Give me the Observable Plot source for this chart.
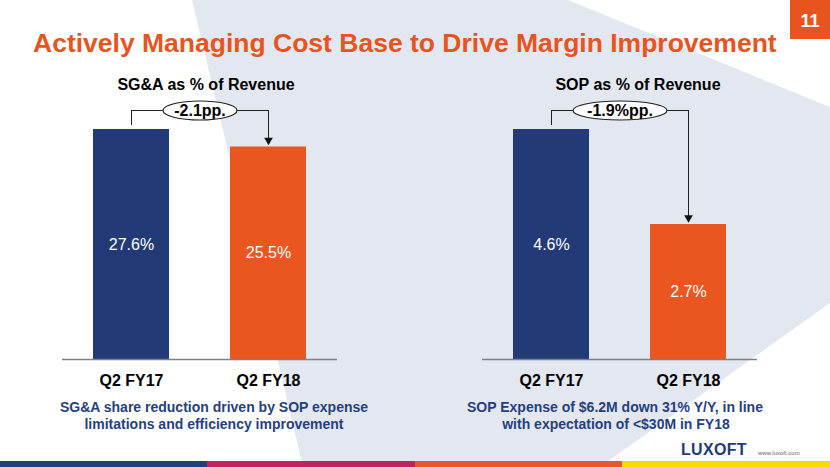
<!DOCTYPE html>
<html>
<head>
<meta charset="utf-8">
<script src="https://cdn.jsdelivr.net/npm/d3@7"></script>
<script src="https://cdn.jsdelivr.net/npm/@observablehq/plot@0.6"></script>
<style>
  html, body { margin: 0; padding: 0; background: #fff; }
  #slide { position: relative; width: 830px; height: 467px; overflow: hidden;
           font-family: "Liberation Sans", Arial, Helvetica, sans-serif; }
  #bg { position: absolute; left: 0; top: 0; }
  .chart { position: absolute; top: 70px; }
  .chart svg { overflow: visible; }
</style>
</head>
<body>
<div id="slide">
  <svg id="bg" width="830" height="467" xmlns="http://www.w3.org/2000/svg"
       font-family="Liberation Sans, Arial, Helvetica, sans-serif">
    <polygon points="192,0 568,0 830,107 830,303 600,467 303,467" fill="#e3e8f0"/>
    <rect x="790" y="0" width="40" height="39" fill="#e8541e"/>
    <text x="810" y="27" text-anchor="middle" font-size="18" font-weight="bold" fill="#fff">11</text>
    <text x="33" y="52" font-size="26.5" font-weight="bold" fill="#e8541e">Actively Managing Cost Base to Drive Margin Improvement</text>
    <text x="206" y="90" text-anchor="middle" font-size="16" font-weight="bold" fill="#000">SG&amp;A as % of Revenue</text>
    <text x="638" y="90" text-anchor="middle" font-size="16" font-weight="bold" fill="#000">SOP as % of Revenue</text>
    <g font-size="14" font-weight="bold" fill="#253f7f" text-anchor="middle">
      <text x="214" y="412">SG&amp;A share reduction driven by SOP expense</text>
      <text x="214" y="429">limitations and efficiency improvement</text>
      <text x="615" y="412">SOP Expense of $6.2M down 31% Y/Y, in line</text>
      <text x="616" y="429">with expectation of &lt;$30M in FY18</text>
    </g>
    <text x="681" y="455" font-size="16" font-weight="bold" fill="#1f3a7a" letter-spacing="0.3">LUXOFT</text>
    <text x="758" y="455" font-size="6" fill="#666">www.luxoft.com</text>
    <rect x="0" y="461" width="207" height="6" fill="#1f3f7f"/>
    <rect x="207" y="461" width="208" height="6" fill="#c0245e"/>
    <rect x="415" y="461" width="207" height="6" fill="#e8582a"/>
    <rect x="622" y="461" width="208" height="6" fill="#f7dc00"/>
  </svg>
  <div class="chart" id="left" style="left:62px"></div>
  <div class="chart" id="right" style="left:482px"></div>
</div>
<script>
const categories = ["Q2 FY17", "Q2 FY18"];
const sgaValues = [27.6, 25.5];
const sgaLabels = ["27.6%", "25.5%"];
const sgaDelta = "-2.1pp.";
const sopValues = [4.6, 2.7];
const sopLabels = ["4.6%", "2.7%"];
const sopDelta = "-1.9%pp.";
const barColors = ["#233a78", "#e9561f"];

function ellipseSymbol(rx, ry) {
  return {
    draw(ctx) {
      const k = 0.5522847498;
      ctx.moveTo(rx, 0);
      ctx.bezierCurveTo(rx, ry * k, rx * k, ry, 0, ry);
      ctx.bezierCurveTo(-rx * k, ry, -rx, ry * k, -rx, 0);
      ctx.bezierCurveTo(-rx, -ry * k, -rx * k, -ry, 0, -ry);
      ctx.bezierCurveTo(rx * k, -ry, rx, -ry * k, rx, 0);
      ctx.closePath();
    }
  };
}

function makeChart(values, labels, delta, rx) {
  const data = categories.map((c, i) => ({cat: c, value: values[i], label: labels[i]}));
  const vmax = d3.max(values);
  const level = vmax * 1.0826;
  const startGap = vmax * 0.0174;
  const arrowGap = vmax * 0.029;
  return Plot.plot({
    width: 275,
    height: 325,
    marginTop: 59,
    marginBottom: 36,
    marginLeft: 0,
    marginRight: 0,
    style: {background: "transparent", overflow: "visible", color: "#000",
            fontFamily: "Liberation Sans, Arial, Helvetica, sans-serif", fontSize: "16px", fontWeight: "bold"},
    x: {domain: categories, paddingInner: 0.445, paddingOuter: 0.226, axis: "bottom",
        tickSize: 0, tickPadding: 15, label: null},
    y: {domain: [0, vmax], axis: null},
    color: {domain: categories, range: barColors},
    marks: [
      Plot.barY(data, {x: "cat", y: "value", fill: "cat"}),
      Plot.ruleY([0], {stroke: "#808080", strokeWidth: 1.5}),
      Plot.text(data, {x: "cat", y: d => d.value / 2, text: "label", fill: "#fff",
                       fontSize: 16, fontWeight: "normal"}),
      Plot.ruleX([data[0]], {x: "cat", y1: d => d.value + startGap, y2: level, stroke: "#222", strokeWidth: 1}),
      Plot.line([{cat: categories[0], y: level}, {cat: categories[1], y: level}],
                {x: "cat", y: "y", stroke: "#222", strokeWidth: 1}),
      Plot.ruleX([data[1]], {x: "cat", y1: level, y2: d => d.value + arrowGap, stroke: "#222", strokeWidth: 1}),
      Plot.dot([data[1]], {x: "cat", y: d => d.value + arrowGap, symbol: "triangle", rotate: 180,
                           r: 3.2, fill: "#111", stroke: "none"}),
      Plot.dot([delta], {y: () => level, symbol: ellipseSymbol(rx, 9.5), fill: "#fff",
                         stroke: "#222", strokeWidth: 1.2}),
      Plot.text([delta], {y: () => level, text: d => d, fontSize: 16, fontWeight: "bold", fill: "#000"})
    ]
  });
}

document.getElementById("left").append(makeChart(sgaValues, sgaLabels, sgaDelta, 37));
document.getElementById("right").append(makeChart(sopValues, sopLabels, sopDelta, 47));
</script>
</body>
</html>
